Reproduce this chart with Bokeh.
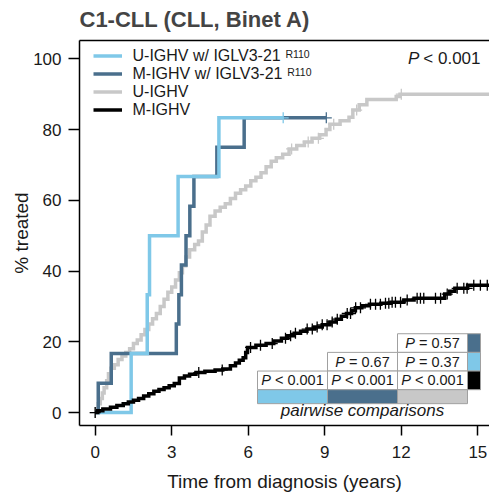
import numpy as np
from bokeh.plotting import figure
from bokeh.models import (Range1d, LinearAxis, FixedTicker, Legend, LegendItem,
                          Label, ColumnDataSource)
from bokeh.core.properties import value
from bokeh.embed import file_html
from bokeh.resources import INLINE

# ---------------- data ----------------
TITLE = "C1-CLL (CLL, Binet A)"
X_LABEL = "Time from diagnosis (years)"
Y_LABEL = "% treated"
X_TICKS = [0, 3, 6, 9, 12, 15]
Y_TICKS = [0, 20, 40, 60, 80, 100]

SERIES_NAMES = ["U-IGHV w/ IGLV3-21", "M-IGHV w/ IGLV3-21", "U-IGHV", "M-IGHV"]
SERIES_SUP = ["R110", "R110", "", ""]
SERIES_COLORS = ["#7fc8e8", "#4a6f8c", "#c8c8c8", "#000000"]

# U-IGHV w/ IGLV3-21 R110
u_r110_t = [0.0, 1.41, 2.04, 2.13, 3.25, 4.85]
u_r110_v = [0.0, 16.7, 33.3, 50.0, 66.7, 83.3]
u_r110_end = 7.37
u_r110_cens = [7.37]

# M-IGHV w/ IGLV3-21 R110
m_r110_t = [0.0, 0.12, 0.63, 3.18, 3.28, 3.38, 3.56, 3.71, 3.87, 4.77, 5.84]
m_r110_v = [0.0, 8.3, 16.7, 25.0, 33.3, 41.7, 50.0, 58.3, 66.7, 75.0, 83.3]
m_r110_end = 9.06
m_r110_cens = [9.06]

# U-IGHV
u_t = [0.0, 0.05, 0.12, 0.2, 0.28, 0.35, 0.45, 0.52, 0.62, 0.75, 0.9, 1.05, 1.2,
       1.35, 1.5, 1.65, 1.8, 1.95, 2.1, 2.25, 2.4, 2.55, 2.7, 2.85, 3.0, 3.15,
       3.3, 3.42, 3.55, 3.7, 3.9, 4.05, 4.2, 4.35, 4.5, 4.7, 4.9, 5.1, 5.3, 5.5,
       5.7, 5.9, 6.1, 6.3, 6.5, 6.7, 6.9, 7.1, 7.35, 7.6, 7.9, 8.2, 8.5, 8.8,
       9.05, 9.2, 9.6, 9.95, 10.1, 10.35, 10.65, 11.8, 11.95]
u_v = [0.0, 1.0, 2.5, 4.0, 5.5, 7.0, 9.0, 11.0, 12.5, 13.5, 15.0, 16.0, 17.0,
       18.0, 19.5, 20.5, 22.0, 23.5, 25.0, 26.5, 28.0, 30.0, 32.0, 34.0, 35.5,
       37.5, 39.5, 41.5, 44.0, 46.0, 47.5, 48.5, 51.0, 53.0, 55.5, 57.0, 58.0,
       59.0, 60.5, 62.0, 63.0, 64.0, 65.5, 66.5, 67.8, 69.5, 71.0, 72.0, 73.0,
       74.5, 75.5, 76.5, 77.5, 78.5, 80.0, 81.5, 82.5, 83.5, 85.5, 87.0, 88.5,
       89.3, 90.0]
u_end = 16.0
u_cens = [0.0, 7.7, 8.35, 8.75, 9.35, 10.25, 12.0]

# M-IGHV
m_t = [0.0, 0.1, 0.3, 0.6, 0.85, 1.1, 1.3, 1.5, 1.7, 1.9, 2.1, 2.3, 2.5, 2.7,
       2.9, 3.1, 3.3, 3.5, 3.7, 3.95, 4.3, 4.7, 5.0, 5.3, 5.5, 5.65, 5.8, 5.9,
       5.97, 6.3, 6.7, 7.0, 7.3, 7.55, 7.8, 8.05, 8.3, 8.6, 8.9, 9.2, 9.45,
       9.65, 9.85, 10.05, 10.2, 10.45, 10.75, 11.2, 11.6, 12.1, 12.5, 13.7,
       13.9, 14.1, 14.6]
m_v = [0.0, 0.5, 1.0, 1.5, 2.0, 2.5, 3.0, 3.5, 4.0, 4.7, 5.3, 6.0, 6.5, 7.0,
       7.6, 8.2, 9.8, 10.3, 10.8, 11.3, 11.7, 12.0, 12.3, 13.2, 14.0, 14.8,
       15.5, 17.0, 18.4, 19.0, 19.5, 20.2, 21.0, 21.7, 22.4, 23.0, 23.6, 24.2,
       24.8, 25.6, 26.4, 27.2, 28.0, 28.8, 29.6, 30.2, 30.6, 30.9, 31.2, 31.8,
       32.3, 33.5, 34.3, 35.1, 36.0]
m_end = 16.0
m_cens = [0.0, 4.06, 4.98, 6.09, 6.48, 6.94, 7.46, 7.66, 7.85, 8.31, 8.51, 8.70,
          8.90, 9.09, 9.29, 9.49, 9.88, 10.01, 10.21, 10.40, 10.79, 10.99, 11.18,
          11.38, 11.51, 11.64, 11.77, 11.97, 12.23, 12.62, 12.75, 12.88, 13.34,
          13.54, 13.80, 14.19, 14.45, 14.58, 14.84, 15.10, 15.37]

OVERALL_P = "< 0.001"

# pairwise comparison table: rows x columns (None = empty)
PW_ROW_COLORS = ["#4a6f8c", "#7fc8e8", "#000000"]
PW_COL_COLORS = ["#7fc8e8", "#4a6f8c", "#c8c8c8"]
PW_VALUES = [[None, None, "= 0.57"],
             [None, "= 0.67", "= 0.37"],
             ["< 0.001", "< 0.001", "< 0.001"]]
PW_LABEL = "pairwise comparisons"

# ---------------- layout helpers ----------------
FONT = "Liberation Sans"
W, H = 489, 495
X0, X1 = -0.615, 15.457
Y0, Y1 = -3.66, 105.16
FL, FR, FT, FB = 79, 489, 39, 425


def dx(px):  # screen px -> data x
    return X0 + (px - FL) / (FR - FL) * (X1 - X0)


def dy(py):  # screen px -> data y
    return Y0 + (FB - py) / (FB - FT) * (Y1 - Y0)


AW = {' ': 0.278, 'P': 0.667, '<': 0.584, '=': 0.584, '.': 0.278, '-': 0.333,
      'U': 0.722, 'M': 0.833, 'I': 0.278, 'G': 0.778, 'H': 0.722, 'V': 0.667,
      'w': 0.722, '/': 0.278, 'L': 0.556}


def tw(s, size):
    return sum(AW.get(c, 0.556) for c in s) * size


def step_path(t, v, t_end):
    xs, ys = [], []
    for i in range(len(t)):
        if i > 0:
            xs.append(t[i]); ys.append(v[i - 1])
        xs.append(t[i]); ys.append(v[i])
    xs.append(t_end); ys.append(v[-1])
    return xs, ys


def cens_y(t, v, tc):
    idx = np.searchsorted(np.asarray(t), np.asarray(tc), side="right") - 1
    return list(np.asarray(v)[idx])


p = figure(width=W, height=H, x_range=Range1d(X0, X1), y_range=Range1d(Y0, Y1),
           output_backend="svg", toolbar_location=None, title=TITLE,
           min_border_left=FL, min_border_right=0, min_border_top=FT,
           min_border_bottom=H - FB)
p.outline_line_color = None
p.grid.visible = False
p.background_fill_color = "white"
p.border_fill_color = "white"

p.title.text_font = FONT
p.title.text_font_size = "22px"
p.title.text_font_style = "bold"
p.title.align = "left"
p.title.vertical_align = "top"
p.title.standoff = 13

xax = p.below[0]
yax = p.left[0]
for ax, ticks in ((xax, X_TICKS), (yax, Y_TICKS)):
    ax.ticker = FixedTicker(ticks=ticks)
    ax.major_tick_out = 10
    ax.major_tick_in = 0
    ax.minor_tick_line_color = None
    ax.axis_line_width = 1.5
    ax.major_tick_line_width = 1.5
    ax.major_label_text_font = FONT
    ax.major_label_text_font_size = "17px"
    ax.major_label_text_color = "#1a1a1a"
    ax.axis_label_text_font = FONT
    ax.axis_label_text_font_size = "19px"
    ax.axis_label_text_font_style = "normal"
    ax.axis_label_text_color = "#1a1a1a"
xax.axis_label = X_LABEL
xax.major_label_standoff = 10
xax.axis_label_standoff = 10
yax.axis_label = Y_LABEL
yax.major_tick_out = 11
yax.major_label_standoff = 7
yax.axis_label_standoff = -2

top_ax = LinearAxis(ticker=FixedTicker(ticks=[]), major_tick_out=0, major_tick_in=0,
                    major_label_standoff=0, major_label_text_font_size="0px",
                    minor_tick_line_color=None, major_tick_line_color=None,
                    axis_line_width=1.5, axis_line_color="black")
p.add_layout(top_ax, "above")

# ---------------- curves ----------------
curves = [
    (u_r110_t, u_r110_v, u_r110_end, u_r110_cens),
    (m_r110_t, m_r110_v, m_r110_end, m_r110_cens),
    (u_t, u_v, u_end, u_cens),
    (m_t, m_v, m_end, m_cens),
]
renderers = {}
for i in [2, 1, 0, 3]:
    t, v, te, tc = curves[i]
    xs, ys = step_path(t, v, te)
    r = p.line(xs, ys, line_color=SERIES_COLORS[i], line_width=3.5,
               line_join="miter", line_cap="butt")
    p.scatter(tc, cens_y(t, v, tc), marker="cross", size=11,
              line_color=SERIES_COLORS[i], line_width=1.3)
    renderers[i] = r

LEG_ROW = 18          # rendered row height of the legend
LEG_TOP = 46.5
LEG_FS = 16
legend = Legend(items=[LegendItem(label=SERIES_NAMES[i], renderers=[renderers[i]])
                       for i in range(4)],
                location=(92.5 - FL, (FB - FT) - (LEG_TOP - FT) - 4 * LEG_ROW),
                orientation="vertical", spacing=0, padding=0, margin=0,
                glyph_width=29, glyph_height=17, label_height=17,
                label_standoff=11, label_text_font=FONT,
                label_text_font_size=f"{LEG_FS}px", label_text_color="#1a1a1a",
                border_line_color=None, background_fill_alpha=0)
p.add_layout(legend, "center")

for i in range(2):
    if SERIES_SUP[i]:
        xend = 92.5 + 29 + 11 + tw(SERIES_NAMES[i], LEG_FS) + 3
        yc = LEG_TOP + LEG_ROW * i + LEG_ROW / 2 - 3
        p.add_layout(Label(x=dx(xend), y=dy(yc), text=SERIES_SUP[i],
                           text_font=FONT, text_font_size="10.5px",
                           text_color="#1a1a1a", text_baseline="middle"))

# overall P
p_x_right = dx(480)
p_rest_w = tw(OVERALL_P, 17)
p.add_layout(Label(x=p_x_right, y=100, text=OVERALL_P, text_font=FONT,
                   text_font_size="17px", text_align="right",
                   text_baseline="middle", text_color="#1a1a1a"))
p.add_layout(Label(x=p_x_right, y=100, x_offset=-p_rest_w - 4, text="P",
                   text_font=FONT, text_font_size="17px", text_align="right",
                   text_font_style="italic", text_baseline="middle",
                   text_color="#1a1a1a"))

# ---------------- pairwise table ----------------
T_LEFT, T_CW = dx(257), dx(327) - dx(257)
T_TOP, T_RH = dy(333), dy(333) - dy(351.7)
BAR_H = dy(389) - dy(403)
SW_W = dx(482) - dx(469)
nrow, ncol = len(PW_VALUES), len(PW_VALUES[0])

cl, cr, ct, cb, tx, ty, ptxt, rtxt, poff, roff = ([] for _ in range(10))
for r in range(nrow):
    for c in range(ncol):
        val = PW_VALUES[r][c]
        if val is None:
            continue
        l = T_LEFT + c * T_CW
        t = T_TOP - r * T_RH
        cl.append(l); cr.append(l + T_CW); ct.append(t); cb.append(t - T_RH)
        tx.append(l + T_CW / 2); ty.append(t - T_RH / 2)
        wp = tw("P", 14.5); wr = tw(val, 14.5); gap = 4
        total = wp + gap + wr
        poff.append(-total / 2 + wp); roff.append(-total / 2 + wp + gap)
        rtxt.append(val); ptxt.append("P")
p.quad(left=cl, right=cr, top=ct, bottom=cb, fill_color="white",
       line_color="#a0a0a0", line_width=1)
src = ColumnDataSource(dict(x=tx, y=ty, p=ptxt, r=rtxt, po=poff, ro=roff))
p.text(x="x", y="y", text="p", x_offset="po", source=src, text_align="right",
       text_baseline="middle", text_font=value(FONT), text_font_size=value("14.5px"),
       text_font_style="italic", text_color="#1a1a1a")
p.text(x="x", y="y", text="r", x_offset="ro", source=src, text_align="left",
       text_baseline="middle", text_font=value(FONT), text_font_size=value("14.5px"),
       text_color="#1a1a1a")

# row swatches
rows_top = [T_TOP - r * T_RH for r in range(nrow)]
sw_left = T_LEFT + ncol * T_CW
p.quad(left=[sw_left] * nrow, right=[sw_left + SW_W] * nrow, top=rows_top,
       bottom=[y - T_RH for y in rows_top], fill_color=PW_ROW_COLORS,
       line_color="#a0a0a0", line_width=1)
# column bars
bar_top = T_TOP - nrow * T_RH
cols_left = [T_LEFT + c * T_CW for c in range(ncol)]
p.quad(left=cols_left, right=[x + T_CW for x in cols_left], top=[bar_top] * ncol,
       bottom=[bar_top - BAR_H] * ncol, fill_color=PW_COL_COLORS,
       line_color="#a0a0a0", line_width=1)
p.add_layout(Label(x=T_LEFT + ncol * T_CW / 2, y=dy(410), text=PW_LABEL,
                   text_font=FONT, text_font_size="17px", text_font_style="italic",
                   text_align="center", text_baseline="middle", text_color="#1a1a1a"))

open("out.html", "w").write(file_html(p, INLINE))
